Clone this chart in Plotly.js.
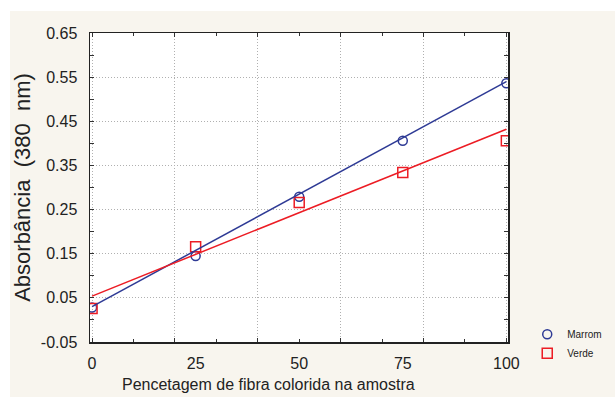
<!DOCTYPE html>
<html>
<head>
<meta charset="utf-8">
<script src="https://cdn.plot.ly/plotly-3.0.1.min.js"></script>
<style>
  html, body { margin: 0; padding: 0; background: #ffffff; width: 615px; height: 397px; overflow: hidden; }
  #chart { position: absolute; left: 10px; top: 11px; width: 605px; height: 386px; }
</style>
</head>
<body>
<div id="chart"></div>
<script>
// Data
const xPercent = [0, 25, 50, 75, 100];
const marrom = [0.028, 0.145, 0.279, 0.406, 0.536];
const verde = [0.026, 0.166, 0.266, 0.334, 0.406];
// fitted straight lines (end points)
const fitX = [0, 100];
const fitMarrom = [0.030, 0.540];
const fitVerde = [0.054, 0.432];
// axis ticks
const xTickLabels = [0, 25, 50, 75, 100];
const xGridVals = [0, 20, 40, 60, 80, 100];
const yTickVals = [-0.05, 0.05, 0.15, 0.25, 0.35, 0.45, 0.55, 0.65];
const yTickText = ['-0.05', '0.05', '0.15', '0.25', '0.35', '0.45', '0.55', '0.65'];

const blue = '#2e3a95';
const red = '#ec1c24';
const font = 'Liberation Sans, Arial, sans-serif';
const gridDash = '1px,2px';

const traces = [
  { x: fitX, y: fitMarrom, xaxis: 'x2', yaxis: 'y', mode: 'lines', line: { color: blue, width: 1.5 }, showlegend: false, hoverinfo: 'skip' },
  { x: fitX, y: fitVerde, xaxis: 'x2', yaxis: 'y', mode: 'lines', line: { color: red, width: 1.5 }, showlegend: false, hoverinfo: 'skip' },
  { x: xPercent, y: marrom, name: 'Marrom', mode: 'markers',
    marker: { symbol: 'circle-open', size: 9, color: blue, line: { width: 1.5, color: blue } } },
  { x: xPercent, y: verde, name: 'Verde', mode: 'markers',
    marker: { symbol: 'square-open', size: 10, color: red, line: { width: 1.5, color: red } } }
];

const xRange = [-0.5, 100.4];
const layout = {
  width: 605, height: 386,
  paper_bgcolor: '#f8f5ee',
  plot_bgcolor: '#ffffff',
  margin: { l: 80, r: 107, t: 22, b: 55, autoexpand: false },
  font: { family: font, size: 16, color: '#222222' },
  showlegend: true,
  legend: { x: 1.046, y: 0.072, xanchor: 'left', yanchor: 'top', bgcolor: 'rgba(0,0,0,0)',
            font: { size: 10, color: '#222222' }, tracegroupgap: 0, itemwidth: 30 },
  xaxis: {
    range: xRange, tickvals: xGridVals, showticklabels: false,
    showgrid: true, gridcolor: '#b0b0b0', griddash: gridDash, gridwidth: 1,
    zeroline: false, showline: true, linecolor: '#222222', linewidth: 1.5, mirror: 'allticks',
    ticks: 'inside', ticklen: 4, tickcolor: '#333333',
    minor: { dtick: 10, tick0: 0, ticks: 'inside', ticklen: 3, tickcolor: '#333333',
             showgrid: false, gridcolor: 'rgba(0,0,0,0)' }
  },
  xaxis2: {
    overlaying: 'x', side: 'bottom', range: xRange,
    tickvals: xTickLabels, showgrid: false, zeroline: false, showline: false, ticks: '',
    ticklabelstandoff: 10, tickfont: { size: 16, family: font, color: '#222222' }
  },
  yaxis: {
    range: [-0.05, 0.65], tickvals: yTickVals, ticktext: yTickText,
    showgrid: true, gridcolor: '#b0b0b0', griddash: gridDash, gridwidth: 1,
    zeroline: false, showline: true, linecolor: '#222222', linewidth: 1.5, mirror: 'allticks',
    ticks: 'inside', ticklen: 4, tickcolor: '#333333', ticklabelstandoff: 8,
    tickfont: { size: 16, family: font, color: '#222222' },
    minor: { dtick: 0.05, tick0: -0.05, ticks: 'inside', ticklen: 3, tickcolor: '#333333',
             showgrid: false, gridcolor: 'rgba(0,0,0,0)' },
    title: { text: 'Absorbância  (380  nm)', font: { size: 22, family: font, color: '#222222' }, standoff: 12 }
  },
  annotations: [
    { text: 'Pencetagem de fibra colorida na amostra', xref: 'paper', yref: 'paper',
      x: (268 - 90) / 418, y: -0.105, xanchor: 'center', yanchor: 'top', showarrow: false,
      font: { size: 16, family: font, color: '#222222' } }
  ]
};

Plotly.newPlot('chart', traces, layout, { displayModeBar: false, staticPlot: true });
</script>
</body>
</html>
